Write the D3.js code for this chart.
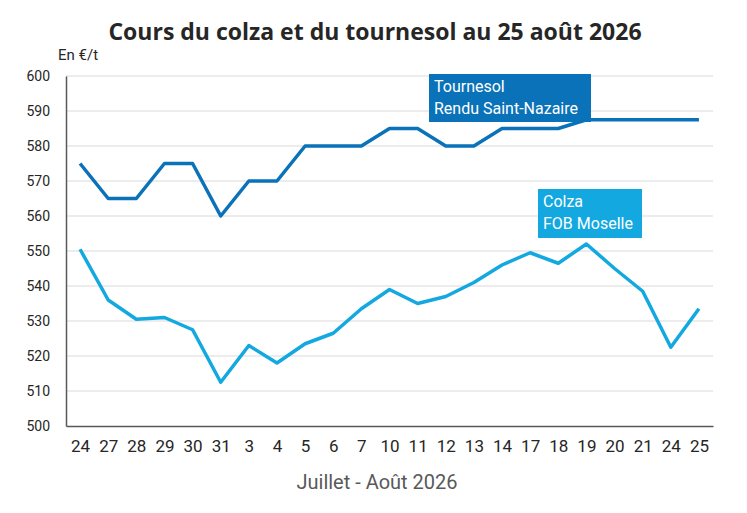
<!DOCTYPE html>
<html>
<head>
<meta charset="utf-8">
<script src="https://cdn.jsdelivr.net/npm/d3@7"></script>
<style>
  body { margin: 0; background: #fff; }
  svg { display: block; }
</style>
</head>
<body>
<div id="chart-area"></div>
<script>
// jours de cotation (juillet puis août)
var days = ["24", "27", "28", "29", "30", "31", "3", "4", "5", "6", "7", "10", "11", "12", "13", "14", "17", "18", "19", "20", "21", "24", "25"];
var tournesol = [575, 565, 565, 575, 575, 560, 570, 570, 580, 580, 580, 585, 585, 580, 580, 585, 585, 585, 587.5, 587.5, 587.5, 587.5, 587.5];
var colza = [550.5, 536, 530.5, 531, 527.5, 512.5, 523, 518, 523.5, 526.5, 533.5, 539, 535, 537, 541, 546, 549.5, 546.5, 552, 545, 538.5, 522.5, 533.5];
var yTicks = [500, 510, 520, 530, 540, 550, 560, 570, 580, 590, 600];

var width = 747, height = 513;
var margin = {top: 76, right: 34, bottom: 87, left: 66};
var w = width - margin.left - margin.right;
var h = height - margin.top - margin.bottom;

var svg = d3.select("#chart-area").append("svg")
    .attr("width", width)
    .attr("height", height);

var g = svg.append("g")
    .attr("transform", "translate(" + margin.left + "," + margin.top + ")");

var xScale = d3.scalePoint()
    .domain(d3.range(days.length))
    .range([0, w])
    .padding(0.5);

var yScale = d3.scaleLinear()
    .domain([500, 600])
    .range([h, 0]);

// grille
g.selectAll(".grid").data(yTicks.slice(1)).enter().append("line")
    .attr("x1", 0)
    .attr("x2", w)
    .attr("y1", function(d) { return yScale(d); })
    .attr("y2", function(d) { return yScale(d); })
    .style("stroke", "#d9d9d9")
    .style("stroke-width", 1);

var yAxis = g.append("g")
    .call(d3.axisLeft(yScale).tickValues(yTicks).tickSize(0).tickPadding(16));
yAxis.select(".domain").style("stroke", "#595959").style("stroke-width", 1.5);
yAxis.selectAll("text")
    .style("font-family", "'Roboto', sans-serif")
    .style("font-size", "14px")
    .style("fill", "#262626");

var xAxis = g.append("g")
    .attr("transform", "translate(0," + h + ")")
    .call(d3.axisBottom(xScale).tickSize(0).tickPadding(14)
        .tickFormat(function(i) { return days[i]; }));
xAxis.select(".domain").style("stroke", "#595959").style("stroke-width", 1.5);
xAxis.selectAll("text")
    .style("font-family", "'Roboto', sans-serif")
    .style("font-size", "17px")
    .style("fill", "#262626");

var line = d3.line()
    .x(function(d, i) { return xScale(i); })
    .y(function(d) { return yScale(d); });

g.append("path").datum(tournesol)
    .attr("d", line)
    .style("fill", "none")
    .style("stroke", "#0a72b8")
    .style("stroke-width", 3.5)
    .style("stroke-linejoin", "round");

g.append("path").datum(colza)
    .attr("d", line)
    .style("fill", "none")
    .style("stroke", "#13a8e0")
    .style("stroke-width", 3.5)
    .style("stroke-linejoin", "round");

// étiquettes des séries
var labels = [
    {lines: ["Tournesol", "Rendu Saint-Nazaire"], color: "#0a72b8", x: 429, y: 74, w: 162, h: 48},
    {lines: ["Colza", "FOB Moselle"], color: "#13a8e0", x: 538, y: 189, w: 104, h: 49}
];
labels.forEach(function(l) {
    svg.append("rect")
        .attr("x", l.x).attr("y", l.y)
        .attr("width", l.w).attr("height", l.h)
        .style("fill", l.color);
    l.lines.forEach(function(t, k) {
        svg.append("text")
            .attr("x", l.x + 5)
            .attr("y", l.y + 18 + k * 22)
            .text(t)
            .style("font-family", "'Roboto', sans-serif")
            .style("font-size", "16px")
            .style("fill", "#fff");
    });
});

svg.append("text")
    .attr("x", 375)
    .attr("y", 40)
    .attr("text-anchor", "middle")
    .text("Cours du colza et du tournesol au 25 août 2026")
    .style("font-family", "'Open Sans', sans-serif")
    .style("font-weight", "bold")
    .style("font-size", "23px")
    .style("fill", "#262626");

svg.append("text")
    .attr("x", 58)
    .attr("y", 60)
    .text("En €/t")
    .style("font-family", "'Roboto', sans-serif")
    .style("font-size", "15px")
    .style("fill", "#262626");

svg.append("text")
    .attr("x", 377)
    .attr("y", 489)
    .attr("text-anchor", "middle")
    .text("Juillet - Août 2026")
    .style("font-family", "'Roboto', sans-serif")
    .style("font-size", "20px")
    .style("fill", "#595959");
</script>
</body>
</html>
